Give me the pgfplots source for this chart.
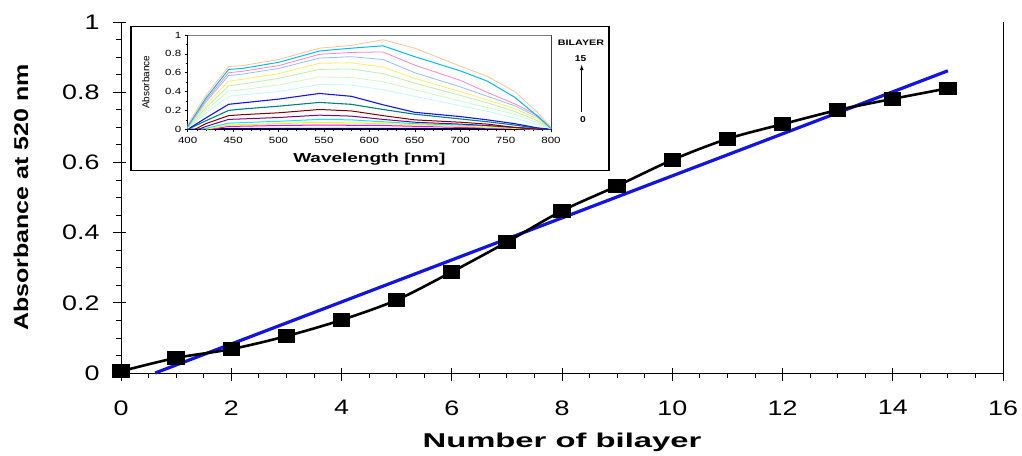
\documentclass[border=0pt]{standalone}
\usepackage{fontspec}
\setmainfont{Liberation Sans}
\usepackage{graphicx}
\usepackage{pgfplots}
\pgfplotsset{compat=1.18}

% horizontal stretch, the reference text is wide
\newcommand\sx[2]{\scalebox{#1}[1]{#2}}
\newcommand\tl[1]{\sx{1.28}{#1}}
\newcommand\il[1]{\sx{1.28}{#1}}

\definecolor{fitblue}{RGB}{20,20,225}
\definecolor{c15}{RGB}{255,196,150}
\definecolor{c14}{RGB}{0,190,240}
\definecolor{c13}{RGB}{255,135,190}
\definecolor{c12}{RGB}{150,190,250}
\definecolor{c11}{RGB}{255,238,100}
\definecolor{c10}{RGB}{185,240,170}
\definecolor{c9}{RGB}{205,250,195}
\definecolor{c8}{RGB}{190,250,250}
\definecolor{c7}{RGB}{20,20,235}
\definecolor{c6}{RGB}{0,128,128}
\definecolor{c5}{RGB}{128,0,0}
\definecolor{c4}{RGB}{128,0,128}
\definecolor{c3}{RGB}{0,240,255}
\definecolor{c2}{RGB}{255,245,0}
\definecolor{c1}{RGB}{255,0,255}
\definecolor{c0}{RGB}{0,0,128}

\begin{document}
\begin{tikzpicture}
\path[use as bounding box] (-121pt,-82pt) rectangle (901pt,373pt);

\begin{axis}[
  at={(0pt,0pt)}, anchor=south west,
  scale only axis, width=882pt, height=351pt,
  xmin=0, xmax=16, ymin=0, ymax=1,
  axis x line*=bottom, axis y line*=left,
  axis line style={line width=0.9pt},
  xtick={0,2,4,6,8,10,12,14,16},
  ytick={0,0.2,0.4,0.6,0.8,1},
  xticklabels={\tl{0},\tl{2},\tl{4},\tl{6},\tl{8},\tl{10},\tl{12},\tl{14},\tl{16}},
  yticklabels={\tl{0},\tl{0.2},\tl{0.4},\tl{0.6},\tl{0.8},\tl{1}},
  minor x tick num=3, minor y tick num=3,
  tick align=outside,
  major tick length=8pt, minor tick length=5pt,
  tick style={black, line width=0.8pt},
  extra x ticks={0,2,4,6,8,10,12,14,16}, extra x tick labels={},
  extra y ticks={0,0.2,0.4,0.6,0.8,1}, extra y tick labels={},
  extra tick style={tick align=inside, major tick length=5pt},
  tick label style={font=\fontsize{21}{24}\selectfont},
  xticklabel style={yshift=-16pt},
  yticklabel style={xshift=-10pt},
  xlabel={\sx{1.64}{\fontsize{20}{24}\selectfont\bfseries Number of bilayer}},
  ylabel={\sx{1.25}{\fontsize{20}{24}\selectfont\bfseries Absorbance at 520 nm}},
  every axis x label/.style={at={([yshift=-69pt]axis description cs:0.5,0)}, anchor=center},
  every axis y label/.style={at={([xshift=-100pt]axis description cs:0,0.5)}, rotate=90, anchor=center},
  clip=false,
]
\draw[line width=0.9pt] (rel axis cs:1,0) -- (rel axis cs:1,1);
\addplot[fitblue, line width=3.2pt] coordinates {(0.62,0) (15,0.861)};
\addplot[black, line width=2.6pt, smooth, mark=square*, mark size=5.5pt,
  mark options={xscale=1.35, solid}]
  coordinates {(0,0.005) (1,0.043) (2,0.068) (3,0.105) (4,0.151) (5,0.208)
  (6,0.288) (7,0.373) (8,0.462) (9,0.533) (10,0.607) (11,0.667) (12,0.709)
  (13,0.749) (14,0.781) (15,0.811)};
\end{axis}

% inset frame
\draw[line width=1.4pt, fill=white] (10pt,202.3pt) rectangle (488pt,346.3pt);

\begin{axis}[
  at={(66.7pt,243.7pt)}, anchor=south west,
  scale only axis, width=363.3pt, height=94.3pt,
  xmin=400, xmax=800, ymin=0, ymax=1,
  axis x line*=bottom, axis y line*=left,
  axis line style={line width=0.7pt},
  xtick={400,450,500,550,600,650,700,750,800},
  ytick={0,0.2,0.4,0.6,0.8,1},
  xticklabels={\il{400},\il{450},\il{500},\il{550},\il{600},\il{650},\il{700},\il{750},\il{800}},
  yticklabels={\il{0},\il{0.2},\il{0.4},\il{0.6},\il{0.8},\il{1}},
  minor x tick num=4, minor y tick num=1,
  tick align=outside, major tick length=3pt, minor tick length=2pt,
  tick style={black, line width=0.5pt},
  tick label style={font=\fontsize{9}{10}\selectfont},
  xticklabel style={yshift=-1pt},
  yticklabel style={xshift=0pt},
  xlabel={\sx{1.46}{\fontsize{13}{15}\selectfont\bfseries Wavelength [nm]}},
  ylabel={\fontsize{10}{12}\selectfont Absorbance},
  every axis x label/.style={at={([yshift=-30pt]axis description cs:0.5,0)}, anchor=center},
  every axis y label/.style={at={([xshift=-42pt]axis description cs:0,0.5)}, rotate=90, anchor=center},
  clip=false,
]
\draw[gray, line width=0.7pt] (rel axis cs:0,1) -- (rel axis cs:1,1);
\draw[darkgray, line width=1pt] (rel axis cs:1,1) -- (rel axis cs:1,0);
\addplot[c0, line width=1pt] coordinates {(400,0) (445,0.008) (545,0.01) (700,0.008) (800,0)};
\addplot[c1, line width=1pt] coordinates {(425,0) (445,0.03) (500,0.04) (545,0.045) (615,0.04) (700,0.02) (760,0.01) (785,0)};
\addplot[c2, line width=1pt] coordinates {(420,0) (445,0.045) (500,0.06) (545,0.075) (615,0.06) (700,0.03) (760,0.01) (785,0)};
\addplot[c3, line width=1pt] coordinates {(415,0) (445,0.065) (500,0.085) (545,0.105) (580,0.1) (615,0.08) (650,0.06) (700,0.045) (730,0.035) (760,0.02) (785,0.005) (800,0)};
\addplot[c4, line width=1pt] coordinates {(412,0) (420,0.03) (445,0.105) (460,0.11) (500,0.125) (545,0.15) (580,0.14) (615,0.105) (650,0.075) (700,0.055) (730,0.04) (760,0.02) (785,0.005) (800,0)};
\addplot[c5, line width=1pt] coordinates {(408,0) (420,0.06) (445,0.145) (460,0.155) (500,0.175) (545,0.21) (580,0.195) (615,0.145) (650,0.1) (700,0.075) (730,0.055) (760,0.02) (785,0) (800,0)};
\addplot[c6, line width=1.1pt] coordinates {(400,0) (420,0.09) (445,0.2) (460,0.215) (500,0.245) (545,0.285) (580,0.265) (615,0.21) (650,0.16) (700,0.11) (730,0.08) (760,0.045) (785,0.01) (800,0)};
\addplot[c7, line width=1.1pt] coordinates {(400,0) (420,0.12) (445,0.265) (460,0.28) (500,0.32) (545,0.38) (580,0.35) (615,0.26) (650,0.18) (700,0.135) (730,0.1) (760,0.06) (785,0.015) (800,0)};
\addplot[c8, line width=0.8pt] coordinates {(400,0.01) (420,0.17) (445,0.35) (460,0.365) (500,0.4) (545,0.475) (580,0.47) (615,0.42) (650,0.35) (700,0.25) (730,0.19) (760,0.12) (785,0.05) (800,0.005)};
\addplot[c9, line width=0.8pt] coordinates {(400,0.01) (420,0.2) (445,0.405) (460,0.42) (500,0.47) (545,0.555) (580,0.55) (615,0.505) (650,0.42) (700,0.3) (730,0.23) (760,0.16) (785,0.07) (800,0.01)};
\addplot[c10, line width=0.8pt] coordinates {(400,0.02) (420,0.23) (445,0.46) (460,0.48) (500,0.54) (545,0.635) (580,0.64) (615,0.59) (650,0.49) (700,0.36) (730,0.28) (760,0.19) (785,0.09) (800,0.01)};
\addplot[c11, line width=0.8pt] coordinates {(400,0.02) (420,0.26) (445,0.51) (460,0.53) (500,0.59) (545,0.7) (580,0.705) (615,0.66) (650,0.54) (700,0.4) (730,0.31) (760,0.22) (785,0.11) (800,0.01)};
\addplot[c12, line width=0.8pt] coordinates {(400,0.02) (420,0.29) (445,0.57) (460,0.585) (500,0.645) (545,0.755) (580,0.77) (615,0.74) (650,0.6) (700,0.45) (730,0.35) (760,0.25) (785,0.13) (800,0.01)};
\addplot[c13, line width=0.8pt] coordinates {(400,0.03) (420,0.31) (445,0.6) (460,0.615) (500,0.675) (545,0.795) (580,0.815) (615,0.82) (650,0.68) (700,0.52) (730,0.39) (760,0.27) (785,0.15) (800,0.01)};
\addplot[c14, line width=1pt] coordinates {(400,0.03) (420,0.33) (445,0.635) (460,0.645) (500,0.71) (545,0.83) (580,0.86) (615,0.885) (650,0.77) (700,0.62) (730,0.51) (760,0.34) (785,0.14) (800,0.01)};
\addplot[c15, line width=0.8pt] coordinates {(400,0.05) (420,0.36) (445,0.665) (460,0.675) (500,0.74) (545,0.86) (580,0.89) (615,0.95) (650,0.86) (700,0.67) (730,0.56) (760,0.4) (785,0.18) (800,0.02)};
\end{axis}

% bilayer legend of the inset
\node[font=\fontsize{8}{9}\selectfont\bfseries] at (460pt,330pt) {\sx{1.34}{BILAYER}};
\node[font=\fontsize{8.5}{9}\selectfont\bfseries] at (459.5pt,314.3pt) {\sx{1.2}{15}};
\node[font=\fontsize{8.5}{9}\selectfont\bfseries] at (462pt,253.7pt) {\sx{1.2}{0}};
\draw[-latex, line width=0.8pt] (460.7pt,261pt) -- (460.7pt,308pt);
\end{tikzpicture}
\end{document}
